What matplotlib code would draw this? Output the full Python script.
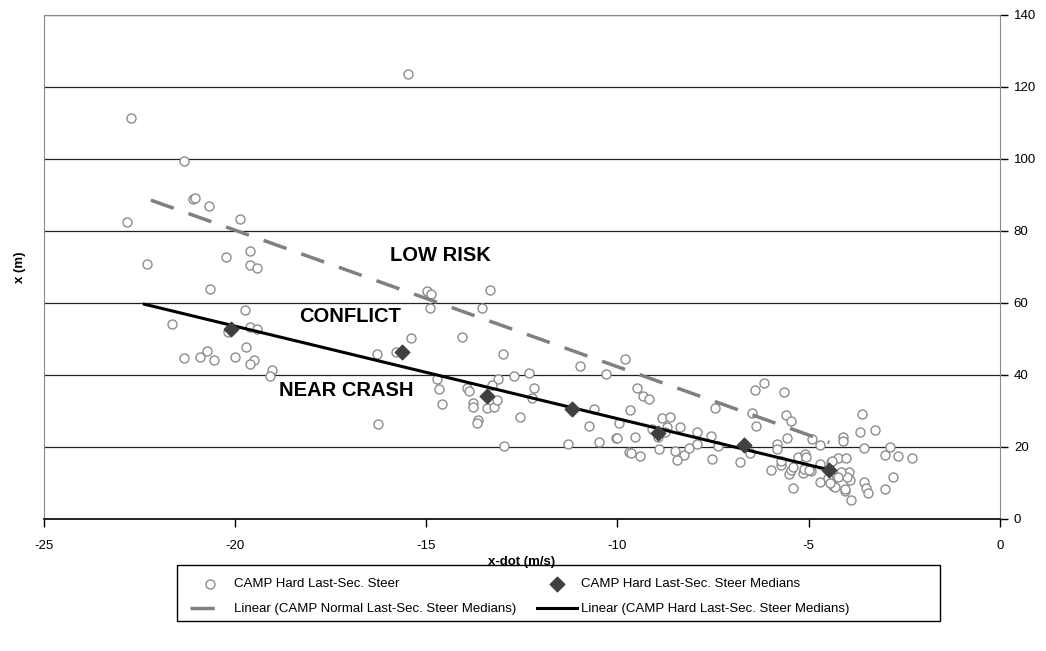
import matplotlib
matplotlib.use("Agg")
import matplotlib.pyplot as plt
from matplotlib.patches import Rectangle
import numpy as np

plt.rcParams['font.family'] = ['Liberation Sans', 'DejaVu Sans']
plt.rcParams['axes.unicode_minus'] = False

# CAMP hard last-second steer, individual events (x-dot m/s, x m)
steer_xdot = [
    -15.48, -22.72, -21.32, -21.10, -21.05, -20.67, -22.81, -19.86, -19.61, -20.23,
    -22.30, -19.61, -19.42, -20.65, -19.75, -21.65, -19.61, -19.42, -20.17, -19.71,
    -20.72, -21.33, -20.91, -20.54, -20.00, -19.50, -19.61, -19.04, -19.08,
    -14.99, -14.87, -13.32, -14.90, -13.55, -15.41, -14.07, -16.28, -15.78, -13.00,
    -14.73, -14.67, -14.58, -16.25, -13.94, -13.87, -13.13, -12.70, -12.30, -12.17,
    -12.23, -13.28, -13.77, -13.77, -13.42, -13.22, -13.16, -13.64, -13.67, -12.55,
    -12.97,
    -10.99, -9.81, -10.29, -9.49, -9.34, -9.18, -10.61, -9.66, -10.75, -9.95,
    -11.29, -10.47, -10.04, -10.00, -9.55, -9.69, -9.65, -9.41, -9.09, -8.95,
    -8.84, -8.63, -8.71, -8.75, -8.36, -8.91, -8.49, -8.26, -8.44, -8.13,
    -7.93, -7.92, -7.55, -7.36, -7.53, -7.46, -6.80, -6.53, -6.40, -6.47,
    -6.38, -6.18,
    -5.65, -5.60, -5.46, -5.58, -3.62, -3.66, -3.27, -3.55, -4.92, -4.71,
    -4.11, -4.11, -2.87, -3.01, -2.66, -2.29, -2.80, -3.01, -3.55, -3.50,
    -3.44, -3.90, -4.04, -3.96, -3.92, -3.99, -4.24, -4.03, -4.42, -4.36,
    -4.70, -4.36, -4.32, -5.42, -5.99, -5.72, -5.52, -5.46, -5.42, -5.16,
    -4.95, -5.27, -5.10, -5.06, -5.84, -5.84, -5.73, -4.70, -4.15, -4.49,
    -4.44, -4.04, -4.24, -5.13, -4.99, -4.40,
]
steer_x = [
    123.4, 111.2, 99.3, 88.9, 89.1, 86.9, 82.4, 83.3, 74.4, 72.8,
    70.7, 70.4, 69.6, 63.9, 58.1, 54.1, 53.2, 52.6, 51.9, 47.7,
    46.7, 44.7, 44.9, 44.1, 45.0, 44.0, 43.0, 41.2, 39.6,
    63.3, 62.4, 63.4, 58.6, 58.6, 50.2, 50.5, 45.8, 46.3, 45.8,
    38.7, 36.1, 31.8, 26.2, 36.2, 35.6, 38.9, 39.6, 40.6, 36.4,
    33.5, 37.1, 32.1, 30.9, 30.8, 31.1, 32.9, 27.5, 26.5, 28.3,
    20.3,
    42.3, 44.5, 40.2, 36.2, 34.1, 33.3, 30.6, 30.2, 25.8, 26.5,
    20.75, 21.2, 22.3, 22.5, 22.6, 18.4, 18.2, 17.4, 25.0, 22.8,
    28.0, 28.2, 25.5, 24.0, 25.5, 19.4, 18.9, 17.6, 16.3, 19.7,
    24.2, 20.8, 23.1, 20.1, 16.5, 30.8, 15.7, 18.3, 35.7, 29.4,
    25.8, 37.7,
    35.3, 28.9, 27.1, 22.4, 29.2, 24.1, 24.6, 19.6, 22.2, 20.4,
    22.6, 21.7, 20.0, 17.7, 17.4, 16.9, 11.7, 8.3, 10.1, 8.4,
    7.1, 5.1, 7.8, 12.9, 10.8, 11.7, 16.8, 16.8, 15.8, 11.7,
    10.1, 9.2, 8.9, 8.4, 13.6, 14.9, 12.4, 13.5, 14.3, 12.8,
    13.3, 17.2, 18.1, 17.1, 20.7, 19.4, 16.0, 15.1, 13.1, 11.2,
    9.8, 8.2, 11.7, 13.7, 13.6, 16.1,
]

# medians of the hard steer data
median_xdot = [-20.11, -15.64, -13.40, -11.18, -8.93, -6.68, -4.46]
median_x = [52.6, 46.3, 34.1, 30.5, 23.9, 20.5, 13.4]

# trendline ranges
hard_trend_range = [-22.37, -4.46]
normal_trend_xdot = [-22.2, -4.46]
normal_trend_x = [88.5, 21.2]

zone_labels = ["LOW RISK", "CONFLICT", "NEAR CRASH"]
zone_xdot = [-14.64, -16.99, -17.09]
zone_x = [73.0, 56.2, 35.7]

fig = plt.figure(figsize=(10.46, 6.51), dpi=100)
ax = fig.add_axes([0.0418, 0.2032, 0.9142, 0.7742])

ax.scatter(steer_xdot, steer_x, s=42, facecolors='white', edgecolors='#8c8c8c',
           linewidths=1.0, zorder=3, label='CAMP Hard Last-Sec. Steer')
ax.scatter(median_xdot, median_x, s=55, marker='D', color='#404040', zorder=5,
           label='CAMP Hard Last-Sec. Steer Medians')

ax.plot(normal_trend_xdot, normal_trend_x, color='#808080', lw=2.5,
        dashes=(7, 4.5), zorder=4, label='Linear (CAMP Normal Last-Sec. Steer Medians)')

coef = np.polyfit(median_xdot, median_x, 1)
tx = np.array(hard_trend_range)
ax.plot(tx, np.polyval(coef, tx), color='black', lw=2.2, zorder=4,
        label='Linear (CAMP Hard Last-Sec. Steer Medians)')

for lab, xx, yy in zip(zone_labels, zone_xdot, zone_x):
    ax.text(xx, yy, lab, fontsize=14.5, fontweight='bold', ha='center', va='center', zorder=6)

ax.set_xlim(-25, 0)
ax.set_ylim(0, 140)
ax.set_xticks(np.arange(-25, 1, 5))
ax.set_yticks(np.arange(0, 141, 20))
ax.yaxis.tick_right()
ax.grid(axis='y', color='#222222', lw=0.9)
ax.set_axisbelow(True)
ax.tick_params(axis='both', direction='out', length=6, width=1, labelsize=9.5, pad=4)
ax.tick_params(axis='x', pad=9)
for s in ['left', 'top', 'right']:
    ax.spines[s].set_color('#8a8a8a')
ax.spines['bottom'].set_color('black')
ax.spines['bottom'].set_linewidth(1.2)

ax.set_xlabel('x-dot (m/s)', fontsize=9.5, fontweight='bold', labelpad=3)
fig.text(0.019, 0.59, 'x (m)', rotation=90, fontsize=9.5, fontweight='bold', va='center', ha='center')

# legend: columns filled top-down, so reorder to get the reference rows
h, l = ax.get_legend_handles_labels()
order = [0, 2, 1, 3]
leg = fig.legend([h[i] for i in order], [l[i] for i in order], ncol=2,
                 loc='upper left', bbox_to_anchor=(177 / 1046, 1 - 565 / 651), fontsize=9.5,
                 frameon=False, handlelength=3.0, handletextpad=0.3,
                 columnspacing=1.6, borderpad=0.5, labelspacing=0.95)
fig.add_artist(Rectangle((177 / 1046, 1 - 621 / 651), (940 - 177) / 1046, 56 / 651,
                         transform=fig.transFigure, fill=False, edgecolor='black', lw=1.0))

fig.savefig('out.png', dpi=100)
